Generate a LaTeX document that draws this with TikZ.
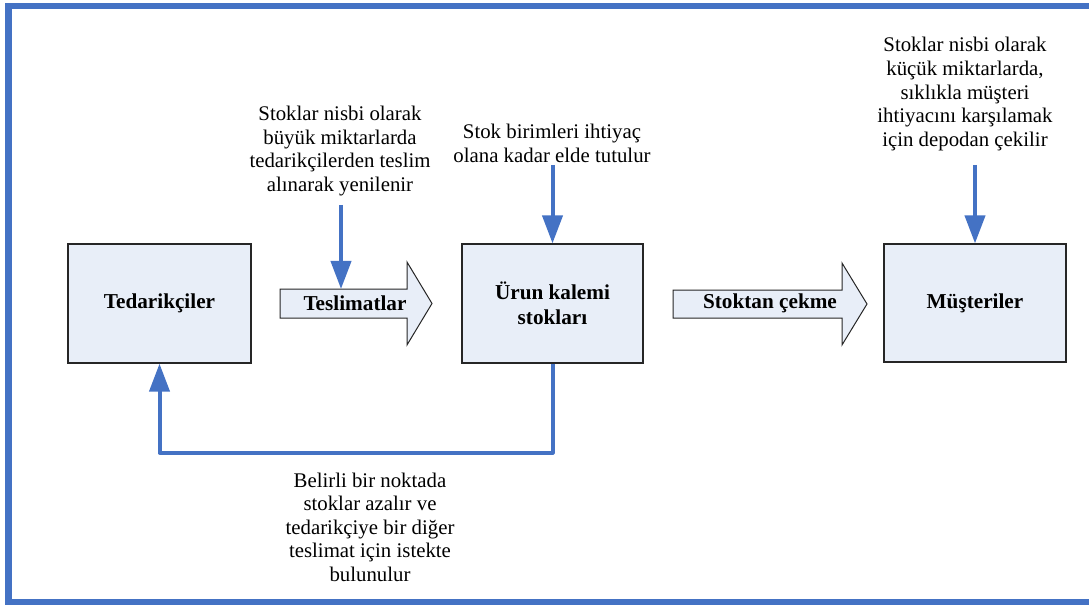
\documentclass[tikz,border=0pt]{standalone}
\usepackage{fontspec}
\setmainfont{Liberation Serif}
\usetikzlibrary{arrows.meta}
\definecolor{frameblue}{HTML}{4472C4}
\definecolor{boxfill}{HTML}{E8EEF8}
\definecolor{edgegray}{HTML}{262626}

\begin{document}
\begin{tikzpicture}[x=1bp,y=-1bp,
  font=\fontsize{20.9}{23.6}\selectfont,
  stockbox/.style={draw=edgegray, line width=1.2bp, fill=boxfill, inner sep=0,
    align=center, font=\fontsize{21.3}{25}\selectfont\bfseries},
  note/.style={align=center, inner sep=0},
  flow/.style={draw=frameblue, line width=4bp, line join=round,
    -{Triangle[width=20bp,length=28bp]}},
  blockarrow/.style={draw=edgegray, line width=1bp, fill=boxfill, line join=miter},
  arrowlabel/.style={font=\fontsize{21.3}{24}\selectfont\bfseries, inner sep=0}
]
\useasboundingbox (0,0) rectangle (1089,605);
\clip (0,0) rectangle (1089,605);

% outer frame (runs past the right edge)
\draw[frameblue, line width=6.5bp] (8.5,6) rectangle (1100,602);

% main boxes
\node[stockbox, minimum width=183bp, minimum height=119bp] (sup) at (159.5,303.5) {Tedarikçiler};
\node[stockbox, minimum width=181bp, minimum height=119bp] (stock) at (552.5,303.5) {Ürun kalemi\\stokları};
\node[stockbox, minimum width=182bp, minimum height=118bp] (cust) at (975,303) {Müşteriler};

% block arrows
\draw[blockarrow] (280,289) -- (407,289) -- (407,262) -- (432,303.5) -- (407,345)
  -- (407,318) -- (280,318) -- cycle;
\node[arrowlabel] (deliv) at (355,303) {Teslimatlar};
\draw[blockarrow] (673,290) -- (842,290) -- (842,263) -- (867,304) -- (842,345)
  -- (842,318) -- (673,318) -- cycle;
\node[arrowlabel] (pull) at (770,303) {Stoktan çekme};

% notes
\node[note] (n1) at (340,151) {Stoklar nisbi olarak\\büyük miktarlarda\\tedarikçilerden teslim\\alınarak yenilenir};
\node[note] (n2) at (552,143.5) {Stok birimleri ihtiyaç\\olana kadar elde tutulur};
\node[note] (n3) at (965,94) {Stoklar nisbi olarak\\küçük miktarlarda,\\sıklıkla müşteri\\ihtiyacını karşılamak\\için depodan çekilir};
\node[note] (n4) at (370,527) {Belirli bir noktada\\stoklar azalır ve\\tedarikçiye bir diğer\\teslimat için istekte\\bulunulur};

% blue flow arrows
\coordinate (d1) at (341,205);
\coordinate (d1end) at (341,289);
\coordinate (d2) at (552.5,165);
\coordinate (d3) at (975,165);
\draw[flow] (d1) -- (d1end);
\draw[flow] (d2) -- (stock.north);
\draw[flow] (d3) -- (cust.north);
\draw[flow] (stock.south) -- ++(0,89) -| (sup.south);
\end{tikzpicture}
\end{document}
